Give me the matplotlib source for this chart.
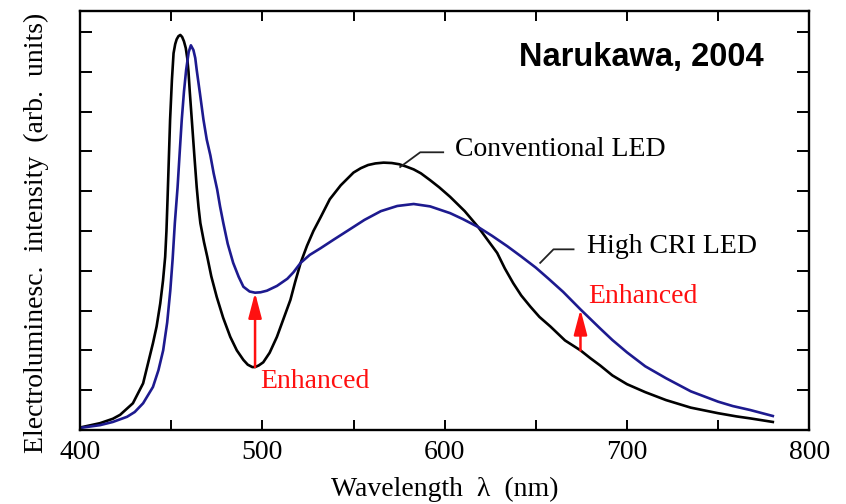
import matplotlib
matplotlib.use("Agg")
import matplotlib.pyplot as plt
import numpy as np

plt.rcParams['font.family'] = ['Liberation Serif', 'DejaVu Serif']

# conventional LED spectrum
conv_nm = [400, 411, 418, 422, 429, 434.6, 440, 442, 444, 445.5, 446.7, 447.4, 448, 448.7, 449.4,
           450.4, 451.3, 452.2, 453, 454, 455, 456, 457, 458, 458.8, 459.5, 460.2, 461.3, 462.7,
           464, 465, 466, 468, 469.8, 472, 475, 478.5, 482.4, 486, 489.6, 492, 494.5, 496, 498,
           500.5, 504, 508, 511.5, 515.4, 518, 521, 524.5, 528, 532, 537, 543, 550, 554, 558,
           562, 566.5, 571, 575, 579, 583, 587, 592, 597, 603, 611, 618.4, 623.5, 628.8, 633,
           637.6, 642, 647, 652, 658, 666, 674.5, 680, 685.3, 692, 700, 710, 721.4, 735, 750,
           760, 767.6, 780]
conv_int = [0.06, 0.17, 0.28, 0.38, 0.67, 1.17, 2.18, 2.6, 3.18, 3.75, 4.35, 5.0, 5.8, 6.8, 7.8,
            8.8, 9.47, 9.7, 9.82, 9.9, 9.93, 9.88, 9.77, 9.6, 9.35, 9.0, 8.5, 7.8, 6.9,
            6.1, 5.6, 5.2, 4.72, 4.35, 3.86, 3.34, 2.82, 2.34, 2.0, 1.76, 1.64, 1.58, 1.58, 1.62,
            1.7, 1.94, 2.34, 2.78, 3.27, 3.72, 4.2, 4.63, 5.0, 5.35, 5.8, 6.15, 6.47, 6.58, 6.66,
            6.7, 6.72, 6.71, 6.68, 6.62, 6.55, 6.45, 6.28, 6.1, 5.86, 5.5, 5.1, 4.78, 4.45, 4.06,
            3.69, 3.38, 3.1, 2.84, 2.6, 2.25, 2.0, 1.8, 1.62, 1.37, 1.15, 0.95, 0.75, 0.56, 0.42,
            0.34, 0.29, 0.2]

# high CRI LED spectrum
cri_nm = [400, 411, 418, 425.8, 430, 434.6, 440, 443, 445.6, 447.8, 449.5, 450.8, 452, 453.5,
          454.7, 455.8, 457, 458.2, 459.6, 460.8, 462.2, 463.2, 464, 465.8, 467.7, 469.5, 471.5,
          473.3, 475.2, 476.8, 478.6, 481, 484, 487, 489.6, 493, 496, 499, 502.5, 508, 513.7,
          517, 521, 526, 532, 539, 546.5, 556, 565, 574, 583, 592, 603, 610, 618.4, 626, 634.3,
          642, 650, 657, 665, 674.5, 685.3, 692, 700, 710, 721.4, 735, 750, 758, 767.6, 780]
cri_int = [0.05, 0.12, 0.2, 0.33, 0.45, 0.67, 1.08, 1.5, 2.0, 2.7, 3.5, 4.3, 5.2, 6.1,
           7.0, 7.8, 8.5, 9.05, 9.5, 9.67, 9.55, 9.35, 9.05, 8.45, 7.8, 7.3, 6.9,
           6.45, 6.05, 5.62, 5.2, 4.68, 4.2, 3.85, 3.6, 3.48, 3.45, 3.46, 3.5, 3.62, 3.8,
           3.96, 4.2, 4.4, 4.57, 4.78, 5.0, 5.28, 5.5, 5.63, 5.68, 5.62, 5.45, 5.3, 5.1, 4.88, 4.62,
           4.36, 4.08, 3.8, 3.47, 3.03, 2.55, 2.26, 1.95, 1.6, 1.3, 0.97, 0.71, 0.6, 0.5, 0.35]

# "Enhanced" arrows
enh_nm = [496, 674.5]
enh_from = [1.58, 2.0]
enh_to = [3.45, 3.03]

blue = '#1d1a8f'
red = '#ff1010'

fig = plt.figure(figsize=(8.46, 5.04), dpi=100)
ax = fig.add_axes([0.0946, 0.147, 0.862, 0.831])

ax.plot(conv_nm, conv_int, color='black', lw=1.9, solid_joinstyle='round')
ax.plot(cri_nm, cri_int, color=blue, lw=1.9, solid_joinstyle='round')

for x, y0, y1 in zip(enh_nm, enh_from, enh_to):
    ax.annotate('', xy=(x, y1), xytext=(x, y0),
                arrowprops=dict(arrowstyle='-|>,head_length=0.95,head_width=0.25',
                                mutation_scale=16, color=red, lw=1.8,
                                shrinkA=0, shrinkB=0))

ax.text(498.8, 1.21, 'Enhanced', color=red, fontsize=20, va='center', ha='left')
ax.text(678.7, 3.35, 'Enhanced', color=red, fontsize=20, va='center', ha='left')

# curve labels with leader lines
ax.plot([575.6, 586.6, 599.2], [6.61, 6.98, 6.98], color='#222222', lw=1.3)
ax.text(605.8, 7.05, 'Conventional LED', fontsize=20, va='center', ha='left')
ax.plot([652.4, 659.7, 670.7], [4.2, 4.54, 4.54], color='#222222', lw=1.3)
ax.text(678, 4.6, 'High CRI LED', fontsize=20, va='center', ha='left')

ax.text(0.769, 0.888, 'Narukawa, 2004', transform=ax.transAxes, fontsize=23.5,
        fontweight='bold', family='Liberation Sans', ha='center', va='center')

ax.set_xlim(400, 800)
ax.set_ylim(0, 10.53)
ax.set_xticks([400, 500, 600, 700, 800])
ax.set_xticks(np.arange(450, 800, 100), minor=True)
ax.set_yticks(np.arange(1, 11))
ax.set_yticklabels([])
ax.tick_params(axis='x', which='both', direction='in', length=7.5, width=1.4,
               top=True, labelsize=20, pad=7)
ax.tick_params(axis='y', direction='in', length=8.5, width=1.4, right=True)
for s in ax.spines.values():
    s.set_linewidth(1.7)

ax.set_xlabel('Wavelength  λ  (nm)', fontsize=20, labelpad=9)
ax.set_ylabel('Electroluminesc.  intensity  (arb.  units)', fontsize=20)
ax.yaxis.set_label_coords(-0.042, 0.47)

fig.savefig('out.png', dpi=100)
